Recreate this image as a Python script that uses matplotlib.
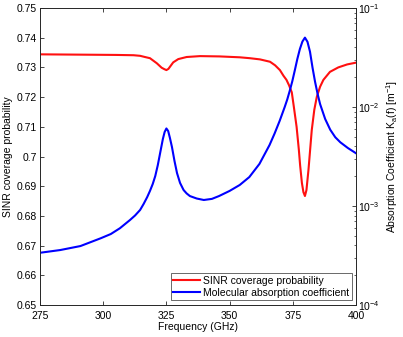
import numpy as np
import matplotlib
matplotlib.use('Agg')
import matplotlib.pyplot as plt
from matplotlib.ticker import FixedLocator, LogLocator, NullFormatter

plt.rcParams['font.family'] = ['Liberation Sans', 'DejaVu Sans']
plt.rcParams['mathtext.fontset'] = 'custom'
plt.rcParams['mathtext.rm'] = 'Liberation Sans'
plt.rcParams['mathtext.it'] = 'Liberation Sans'

# SINR coverage probability (left axis)
f_sinr = [275, 290, 305, 312, 314.6, 316.5, 318.5, 321.2, 323.1, 324.2, 325, 325.8, 326.4,
          327.7, 329.7, 333, 338.3, 346, 354, 358, 362, 366, 368, 369.9, 371.3, 372.5,
          373.5, 374.6, 375.4, 376.5, 377.4, 377.9, 378.6, 379.2, 379.8, 380.4, 381.2,
          382.5, 383.5, 384.5, 385.8, 387.1, 389.7, 393, 396.5, 400]
p_sinr = [0.7344, 0.7343, 0.7342, 0.7341, 0.7339, 0.7335, 0.7331, 0.7314, 0.7299, 0.7294,
          0.7291, 0.7295, 0.7302, 0.7317, 0.7328, 0.7335, 0.7338, 0.7337, 0.7334, 0.7331,
          0.7327, 0.7319, 0.7307, 0.7291, 0.7272, 0.7258, 0.7240, 0.7216, 0.7168, 0.7100,
          0.7022, 0.6970, 0.6911, 0.6880, 0.6867, 0.6887, 0.6955, 0.7089, 0.7157, 0.7201,
          0.7235, 0.7258, 0.7285, 0.7300, 0.7310, 0.7316]

# molecular absorption coefficient (right axis, log)
f_abs = [275, 283, 291, 299, 303, 306.6, 310.6, 312.6, 314.6, 316, 317.4, 318.5, 319.6,
         320.6, 321.6, 322.6, 323.6, 324.3, 325, 325.7, 326.4, 327.2, 328.2, 329.2, 330.4,
         331.8, 333, 334.3, 337, 339.8, 343, 345.8, 350, 354, 357.8, 361.8, 365.8, 367.8,
         369.8, 371.8, 372.8, 373.8, 374.8, 375.8, 376.8, 377.8, 378.8, 379.8, 380.8,
         381.8, 382.8, 383.8, 384.8, 385.8, 387.8, 389.8, 391.8, 393.8, 396.8, 400]
k_abs = [3.37e-4, 3.59e-4, 3.94e-4, 4.72e-4, 5.21e-4, 5.96e-4, 7.22e-4, 8.02e-4, 9.12e-4,
         1.05e-3, 1.23e-3, 1.42e-3, 1.67e-3, 2.01e-3, 2.59e-3, 3.51e-3, 4.75e-3, 5.59e-3,
         6.07e-3, 5.72e-3, 4.86e-3, 3.94e-3, 2.85e-3, 2.15e-3, 1.71e-3, 1.45e-3, 1.34e-3,
         1.26e-3, 1.19e-3, 1.15e-3, 1.18e-3, 1.26e-3, 1.42e-3, 1.63e-3, 1.96e-3, 2.66e-3,
         4.13e-3, 5.40e-3, 7.24e-3, 1.00e-2, 1.19e-2, 1.46e-2, 1.82e-2, 2.35e-2, 3.06e-2,
         3.85e-2, 4.58e-2, 5.02e-2, 4.56e-2, 3.62e-2, 2.50e-2, 1.80e-2, 1.36e-2, 1.07e-2,
         7.57e-3, 5.90e-3, 4.95e-3, 4.40e-3, 3.85e-3, 3.41e-3]

xticks = [275, 300, 325, 350, 375, 400]
yticks = [0.65, 0.66, 0.67, 0.68, 0.69, 0.7, 0.71, 0.72, 0.73, 0.74, 0.75]
ytick_labels = ['0.65', '0.66', '0.67', '0.68', '0.69', '0.7', '0.71', '0.72', '0.73', '0.74', '0.75']

axc = '#262626'
fs = 7.5

fig = plt.figure(figsize=(4.03, 3.37), dpi=100)
ax = fig.add_axes([40/403, 32/337, 316/403, 297/337])
ax2 = ax.twinx()

l1, = ax.plot(f_sinr, p_sinr, color='#ff1010', lw=1.5, label='SINR coverage probability')
l2, = ax2.plot(f_abs, k_abs, color='#0000ff', lw=1.5, label='Molecular absorption coefficient')

ax.set_xlim(275, 400)
ax.set_ylim(0.65, 0.75)
ax.set_xticks(xticks)
ax.set_xticklabels([str(t) for t in xticks])
ax.set_yticks(yticks)
ax.set_yticklabels(ytick_labels)
ax.tick_params(axis='both', direction='in', length=3, width=0.6, colors=axc,
               labelsize=fs, labelcolor='black', pad=2)
ax.tick_params(axis='x', top=True, pad=4)
ax.tick_params(axis='y', right=False)

ax2.set_yscale('log')
ax2.set_ylim(1e-4, 1e-1)
ax2.yaxis.set_major_locator(FixedLocator([1e-4, 1e-3, 1e-2, 1e-1]))
ax2.yaxis.set_minor_locator(LogLocator(base=10, subs=np.arange(2, 10), numticks=20))
ax2.yaxis.set_minor_formatter(NullFormatter())
ax2.tick_params(axis='y', which='major', direction='in', length=3, width=0.6, colors=axc,
                labelsize=fs, labelcolor='black', pad=1.5)
ax2.tick_params(axis='y', which='minor', direction='in', length=1.6, width=0.5, colors=axc)

for a in (ax, ax2):
    for s in a.spines.values():
        s.set_color(axc)
        s.set_linewidth(0.6)

ax.set_xlabel('Frequency (GHz)', fontsize=fs, labelpad=1)
ax.set_ylabel('SINR coverage probability', fontsize=fs, labelpad=3)
ax2.set_ylabel(r'Absorption Coefficient K$_\mathregular{a}$(f) [m$^{-1}$]', fontsize=fs, labelpad=3)

leg = ax2.legend(handles=[l1, l2], loc='lower right', bbox_to_anchor=(0.988, 0.016),
                 borderaxespad=0, fontsize=fs, frameon=True, fancybox=False,
                 handlelength=2.6, handletextpad=0.3, borderpad=0.25, labelspacing=0.15)
leg.get_frame().set_edgecolor(axc)
leg.get_frame().set_linewidth(0.6)

fig.savefig('out.png', dpi=100, facecolor='white')
